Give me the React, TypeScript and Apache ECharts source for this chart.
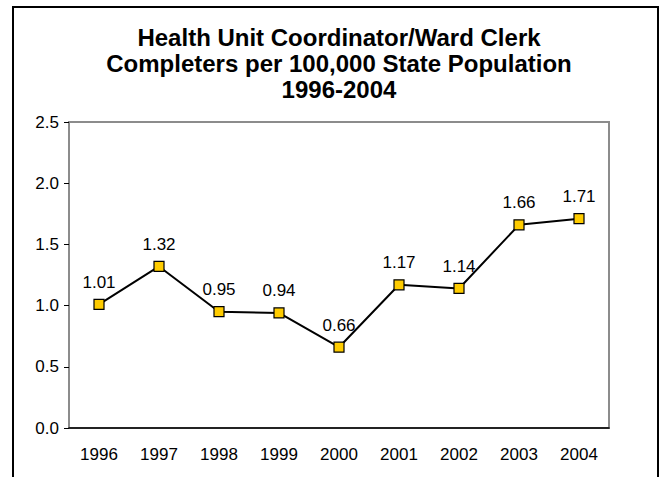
import React, { useEffect, useRef } from "react";
import * as echarts from "echarts";

const years = ["1996", "1997", "1998", "1999", "2000", "2001", "2002", "2003", "2004"];
const completers = [1.01, 1.32, 0.95, 0.94, 0.66, 1.17, 1.14, 1.66, 1.71];
const titleText = "Health Unit Coordinator/Ward Clerk\nCompleters per 100,000 State Population\n1996-2004";

export default function App() {
  const ref = useRef<HTMLDivElement>(null);
  useEffect(() => {
    if (!ref.current) return;
    const chart = echarts.init(ref.current, null, { renderer: "svg" });
    const font = "Liberation Sans, Arial, sans-serif";
    chart.setOption({
      animation: false,
      backgroundColor: "#fff",
      title: {
        text: titleText,
        left: 334,
        top: 19,
        textAlign: "center",
        textStyle: {
          fontFamily: font,
          fontWeight: "bold",
          fontSize: 24,
          lineHeight: 26,
          color: "#000",
        },
      },
      graphic: [
        {
          type: "rect",
          shape: { x: 13, y: 7, width: 645, height: 520 },
          style: { fill: "none", stroke: "#000", lineWidth: 2 },
          silent: true,
        },
      ],
      grid: {
        left: 69,
        top: 122,
        width: 540,
        height: 306,
        show: true,
        borderColor: "#8c8c8c",
        borderWidth: 2,
        backgroundColor: "transparent",
      },
      xAxis: {
        type: "category",
        data: years,
        boundaryGap: true,
        axisLine: { lineStyle: { color: "#000", width: 1.5 } },
        axisTick: { show: false },
        axisLabel: { fontFamily: font, fontSize: 17, color: "#000", margin: 18 },
        splitLine: { show: false },
      },
      yAxis: {
        type: "value",
        min: 0,
        max: 2.5,
        interval: 0.5,
        axisLine: { show: true, lineStyle: { color: "#8c8c8c", width: 2 } },
        axisTick: { show: true, length: 5, lineStyle: { color: "#000" } },
        axisLabel: {
          fontFamily: font,
          fontSize: 17,
          color: "#000",
          margin: 10,
          formatter: (v: number) => v.toFixed(1),
        },
        splitLine: { show: false },
      },
      series: [
        {
          type: "line",
          data: completers,
          symbol: "rect",
          symbolSize: 10,
          itemStyle: { color: "#FFCC00", borderColor: "#000", borderWidth: 1.2 },
          lineStyle: { color: "#000", width: 2 },
          label: {
            show: true,
            position: "top",
            distance: 8,
            fontFamily: font,
            fontSize: 17,
            color: "#000",
            formatter: (p: any) => p.value.toFixed(2),
          },
        },
      ],
    });
    return () => chart.dispose();
  }, []);
  return (
    <div
      ref={ref}
      style={{ position: "fixed", left: 0, top: 0, width: 662, height: 477 }}
    />
  );
}
